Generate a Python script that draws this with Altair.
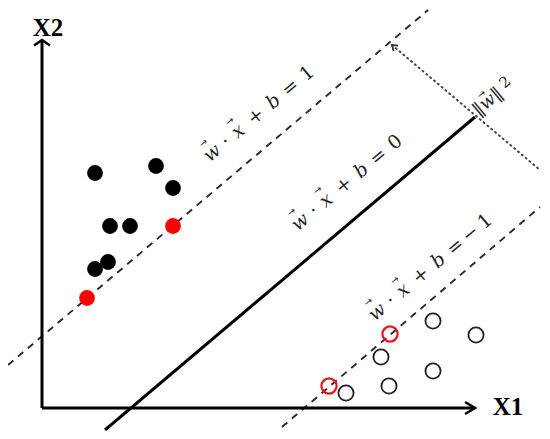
import math
import altair as alt
import pandas as pd

# ---- data (coordinates: origin at the axes' corner, y upward) ----
pos_x = [53, 114, 131, 68, 88, 53, 66]
pos_y = [235, 242, 220, 182, 182, 139, 146]
sv_pos_x = [131, 45]
sv_pos_y = [182, 110]
neg_x = [391, 434, 339, 391, 347, 304]
neg_y = [87, 73, 51, 37, 22, 15]
sv_neg_x = [348, 287]
sv_neg_y = [74, 22]

axis_x1 = [0, 0]
axis_y1 = [0, 0]
axis_x2 = [433, 0]
axis_y2 = [0, 368]

hyper_x = [63, 433]
hyper_y = [-22, 291]
marg_pos_x = [-34, 386]
marg_pos_y = [43, 398]
marg_neg_x = [240, 498]
marg_neg_y = [-19, 201]
width_x = [350, 498]
width_y = [363, 238]

# equation labels: tokens, their distance along the text baseline, anchor of first token
eq_tokens = [
    ["w", "·", "x", "+", "b", "=", "1"],
    ["w", "·", "x", "+", "b", "=", "0"],
    ["w", "·", "x", "+", "b", "=", "−", "1"],
]
eq_offsets = [
    [0, 18, 34, 57, 80, 102, 124],
    [0, 18, 34, 57, 80, 102, 124],
    [0, 18, 34, 57, 80, 102, 122, 141],
]
eq_start_x = [170, 258, 335]
eq_start_y = [255, 186, 96]
text_angle_deg = 40

axis_label = ["X1", "X2"]
axis_label_x = [466, 6]
axis_label_y = [1, 380]

frac_num = "2"
frac_den = "‖w‖"
frac_x = [463, 446]
frac_y = [326, 306]

# ---- build tables ----
ca = math.cos(math.radians(text_angle_deg))
sa = math.sin(math.radians(text_angle_deg))
tok_rows, arr_rows = [], []
for toks, offs, sx, sy in zip(eq_tokens, eq_offsets, eq_start_x, eq_start_y):
    for t, o in zip(toks, offs):
        px, py = sx + o * ca, sy + o * sa
        tok_rows.append({"t": t, "x": px, "y": py,
                         "it": t in ("w", "x", "b")})
        if t in ("w", "x"):
            arr_rows.append({"t": "→", "x": px - 13 * sa, "y": py + 13 * ca})
# arrow over w in the margin-width label
arr_rows.append({"t": "→", "x": frac_x[1] - 10 * sa, "y": frac_y[1] + 10 * ca})

tok_df = pd.DataFrame(tok_rows)
arr_df = pd.DataFrame(arr_rows)

XS = alt.Scale(domain=[-34, 500], nice=False, zero=False)
YS = alt.Scale(domain=[-23, 400], nice=False, zero=False)


def X(f="x"):
    return alt.X(f"{f}:Q", scale=XS, axis=None)


def Y(f="y"):
    return alt.Y(f"{f}:Q", scale=YS, axis=None)


def seg(xs, ys, **kw):
    df = pd.DataFrame({"x": [xs[0]], "y": [ys[0]], "x2": [xs[1]], "y2": [ys[1]]})
    return alt.Chart(df).mark_rule(**kw).encode(
        x=X(), y=Y(), x2="x2:Q", y2="y2:Q")


axes_df = pd.DataFrame({"x": axis_x1, "y": axis_y1, "x2": axis_x2, "y2": axis_y2})
axes = alt.Chart(axes_df).mark_rule(color="black", strokeWidth=3).encode(
    x=X(), y=Y(), x2="x2:Q", y2="y2:Q")

arrow_x = alt.Chart(pd.DataFrame({"x": [axis_x2[0]], "y": [axis_y2[0]]})).mark_point(
    shape="M-1,-0.6L0,0L-1,0.6", size=400, filled=False, color="black",
    strokeWidth=2.5, opacity=1).encode(x=X(), y=Y())
arrow_y = alt.Chart(pd.DataFrame({"x": [axis_x2[1]], "y": [axis_y2[1]]})).mark_point(
    shape="M-1,0.7L0,0L1,0.7", size=256, filled=False, color="black",
    strokeWidth=2.5, opacity=1).encode(x=X(), y=Y())

hyper = seg(hyper_x, hyper_y, color="black", strokeWidth=3)
mpos = seg(marg_pos_x, marg_pos_y, color="#2a2a2a", strokeWidth=1.9, strokeDash=[7, 6])
mneg = seg(marg_neg_x, marg_neg_y, color="#2a2a2a", strokeWidth=1.9, strokeDash=[7, 6])
mwidth = seg(width_x, width_y, color="#444444", strokeWidth=2, strokeDash=[1, 4], strokeCap="round")

arrow_w = alt.Chart(pd.DataFrame({"x": [width_x[0]], "y": [width_y[0]]})).mark_point(
    shape="M-1,-0.7L0,0L-1,0.7", size=100, angle=220, filled=False, color="#333333",
    strokeWidth=1.8, opacity=1).encode(x=X(), y=Y())

pos = alt.Chart(pd.DataFrame({"x": pos_x, "y": pos_y})).mark_point(
    filled=True, size=250, color="black", opacity=1).encode(x=X(), y=Y())
sv_pos = alt.Chart(pd.DataFrame({"x": sv_pos_x, "y": sv_pos_y})).mark_point(
    filled=True, size=250, color="#ff0000", opacity=1).encode(x=X(), y=Y())
neg = alt.Chart(pd.DataFrame({"x": neg_x, "y": neg_y})).mark_point(
    filled=False, size=230, color="#222222", strokeWidth=1.8, opacity=1).encode(x=X(), y=Y())
sv_neg = alt.Chart(pd.DataFrame({"x": sv_neg_x, "y": sv_neg_y})).mark_point(
    filled=False, size=230, color="#e8141b", strokeWidth=2.2, opacity=1).encode(x=X(), y=Y())

tok_base = dict(angle=360 - text_angle_deg, font="DejaVu Serif", fontSize=19,
                color="#222222", align="center", baseline="middle")
tokens_it = alt.Chart(tok_df[tok_df["it"]]).mark_text(
    fontStyle="italic", **tok_base).encode(x=X(), y=Y(), text="t:N")
tokens_up = alt.Chart(tok_df[~tok_df["it"]]).mark_text(
    **tok_base).encode(x=X(), y=Y(), text="t:N")
vec_arrows = alt.Chart(arr_df).mark_text(
    angle=360 - text_angle_deg, font="DejaVu Sans", fontSize=10, color="#222222",
    align="center", baseline="middle").encode(x=X(), y=Y(), text="t:N")

axlabels = alt.Chart(pd.DataFrame({"t": axis_label, "x": axis_label_x, "y": axis_label_y})).mark_text(
    font="Liberation Serif", fontWeight="bold", fontSize=25, color="black",
    align="center", baseline="middle").encode(x=X(), y=Y(), text="t:N")

frac_num_m = alt.Chart(pd.DataFrame({"t": [frac_num], "x": [frac_x[0]], "y": [frac_y[0]]})).mark_text(
    angle=360 - text_angle_deg, font="DejaVu Serif", fontSize=15, color="#222222",
    align="center", baseline="middle").encode(x=X(), y=Y(), text="t:N")
frac_den_m = alt.Chart(pd.DataFrame({"t": [frac_den], "x": [frac_x[1]], "y": [frac_y[1]]})).mark_text(
    angle=360 - text_angle_deg, font="DejaVu Serif", fontStyle="italic", fontSize=18,
    color="#222222", align="center", baseline="middle").encode(x=X(), y=Y(), text="t:N")

chart = alt.layer(
    mwidth, arrow_w, mpos, mneg, hyper, axes, arrow_x, arrow_y,
    pos, sv_pos, neg, sv_neg, tokens_it, tokens_up, vec_arrows, axlabels,
    frac_num_m, frac_den_m
).properties(
    width=534, height=423, padding=0, autosize=alt.AutoSizeParams(type="none")
).configure_view(stroke=None)

chart.save("out.html", embed_options={"renderer": "svg", "actions": False})
